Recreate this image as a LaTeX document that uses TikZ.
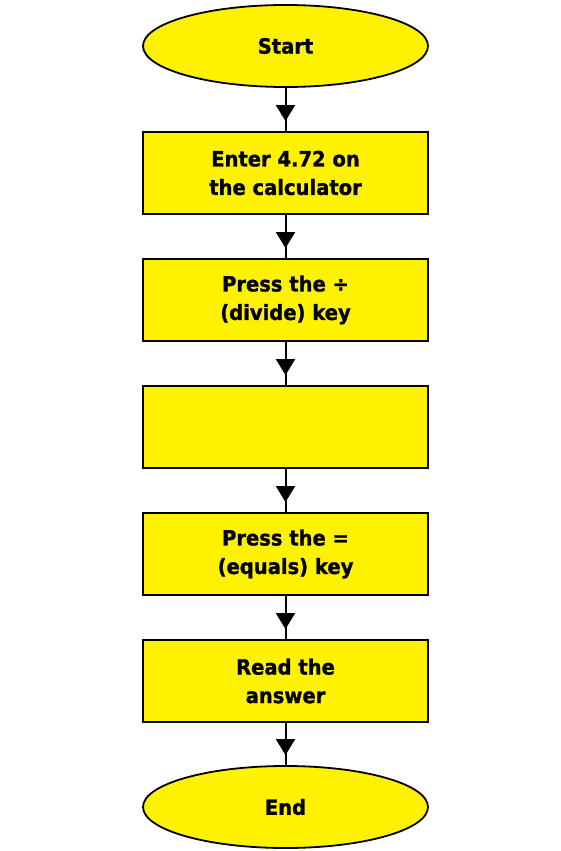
\documentclass[tikz,border=0pt]{standalone}
\usepackage{fontspec}
\setmainfont{DejaVu Sans}[BoldFeatures={FakeStretch=0.93,FakeBold=1.2}]
\usetikzlibrary{arrows.meta,calc,shapes.geometric}
\begin{document}
\begin{tikzpicture}[x=1pt,y=-1pt,
  shapebase/.style={draw=black,line width=1.8pt,fill=yellow,
    font=\bfseries\fontsize{21}{28.5}\selectfont,align=center,inner sep=0pt},
  stepbox/.style={shapebase,rectangle,minimum width=285pt,minimum height=82pt},
  term/.style={shapebase,ellipse,minimum width=285pt,minimum height=82pt},
  conn/.style={line width=2pt,black},
  tip/.style={conn,-{Triangle[width=19pt,length=16pt]}}
  ]
\useasboundingbox (0,0) rectangle (561,851);
\node[term] (start) at (285.5,46) {Start};
\node[stepbox] (b1) at (285.5,173) {Enter 4.72 on\\the calculator};
\node[stepbox] (b2) at (285.5,300) {Press the ÷\\(divide) key};
\node[stepbox] (b3) at (285.5,427) {};
\node[stepbox] (b4) at (285.5,554) {Press the =\\(equals) key};
\node[stepbox] (b5) at (285.5,681) {Read the\\answer};
\node[term] (end) at (285.5,807) {End};
\foreach \a/\b in {start/b1,b1/b2,b2/b3,b3/b4,b4/b5,b5/end}{
  \draw[conn] (\a.south) -- (\b.north);
  \draw[tip] (\a.south) -- ($(\b.north)+(0,-10)$);
}
\end{tikzpicture}
\end{document}
